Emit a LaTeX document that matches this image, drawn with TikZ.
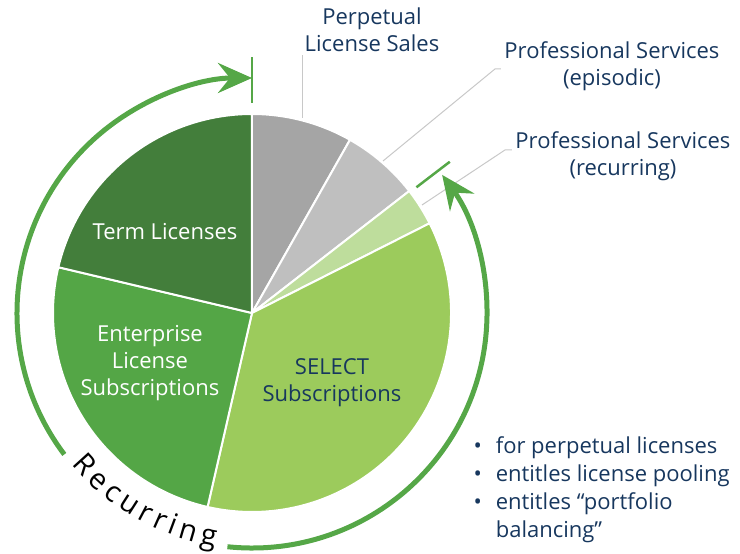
\documentclass[tikz,border=0pt]{standalone}
\usepackage{fontspec}
\setmainfont{Open Sans}
\usetikzlibrary{positioning,arrows.meta,decorations.text}
\definecolor{termgreen}{HTML}{437E3B}
\definecolor{elsgreen}{HTML}{54A646}
\definecolor{selgreen}{HTML}{9CCB5C}
\definecolor{psgreen}{HTML}{BEDD9C}
\definecolor{epigray}{HTML}{BFBFBF}
\definecolor{perpgray}{HTML}{A5A5A5}
\definecolor{arcgreen}{HTML}{55A747}
\definecolor{leadgray}{HTML}{C8C8C8}
\definecolor{navy}{HTML}{17375E}
\newcommand\recfont{\fontsize{29}{29}\selectfont}

\begin{document}
\begin{tikzpicture}[x=1pt,y=1pt,
    lbl/.style={font=\fontsize{22}{27}\selectfont, text=navy, align=center},
    inlbl/.style={lbl, text=white},
    leader/.style={draw=leadgray, line width=1pt},
    recarc/.style={draw=arcgreen, line width=5pt, -{Stealth[length=34pt,width=30pt,inset=12pt]}},
    tickmark/.style={draw=arcgreen, line width=2.5pt}]
\useasboundingbox (-252,-241) rectangle (488,313);
% pie slices, clockwise from the top
\foreach \a/\b/\c in {90/60.5/perpgray, 60.5/37.8/epigray, 37.8/26.8/psgreen,
        26.8/-102.9/selgreen, -102.9/-193.3/elsgreen, -193.3/-270/termgreen}
    \fill[\c, draw=white, line width=2pt] (0,0) -- (\a:199) arc[start angle=\a, end angle=\b, radius=199] -- cycle;

\node[inlbl] (term) at (-87,81) {Term Licenses};
\node[inlbl] (els) at (-102,-50) {Enterprise\\License\\Subscriptions};
\node[lbl] (sel) at (80,-70) {SELECT\\Subscriptions};

\node[lbl] (perp) at (120,283) {Perpetual\\License Sales};
\node[lbl] (epis) at (360,247) {Professional Services\\(episodic)};
\node[lbl] (psrec) at (371,157) {Professional Services\\(recurring)};

% leader lines
\coordinate (perpin) at (51,195);
\coordinate (epiin) at (131,152);
\coordinate (recin) at (170,108);
\draw[leader] (perpin) -- (perpin |- perp.south);
\draw[leader] (epiin) -- ([xshift=-6pt,yshift=-3pt]epis.west) -- ([yshift=-3pt]epis.west);
\draw[leader] (recin) -- ([xshift=-7pt,yshift=6pt]psrec.west) -- ([yshift=6pt]psrec.west);

% recurring arcs
\draw[recarc] (217:235) arc[start angle=217, end angle=90, radius=235];
\draw[recarc] (-96:235) arc[start angle=-96, end angle=36, radius=235];
\draw[tickmark] (90:210) -- (90:256);
\draw[tickmark] (37.4:207) -- (37.4:249);
\path[decorate, decoration={text along path, text align={fit to path},
    text={|\recfont|Recurring}}]
    (220:236) arc[start angle=220, end angle=261, radius=236];

\node[lbl, font=\fontsize{22}{28}\selectfont, align=left, anchor=west] (bul) at (218,-177)
    {\textbullet\hspace{14pt}for perpetual licenses\\
     \textbullet\hspace{14pt}entitles license pooling\\
     \textbullet\hspace{14pt}entitles “portfolio\\
     \phantom{\textbullet}\hspace{14pt}balancing”};
\end{tikzpicture}
\end{document}
